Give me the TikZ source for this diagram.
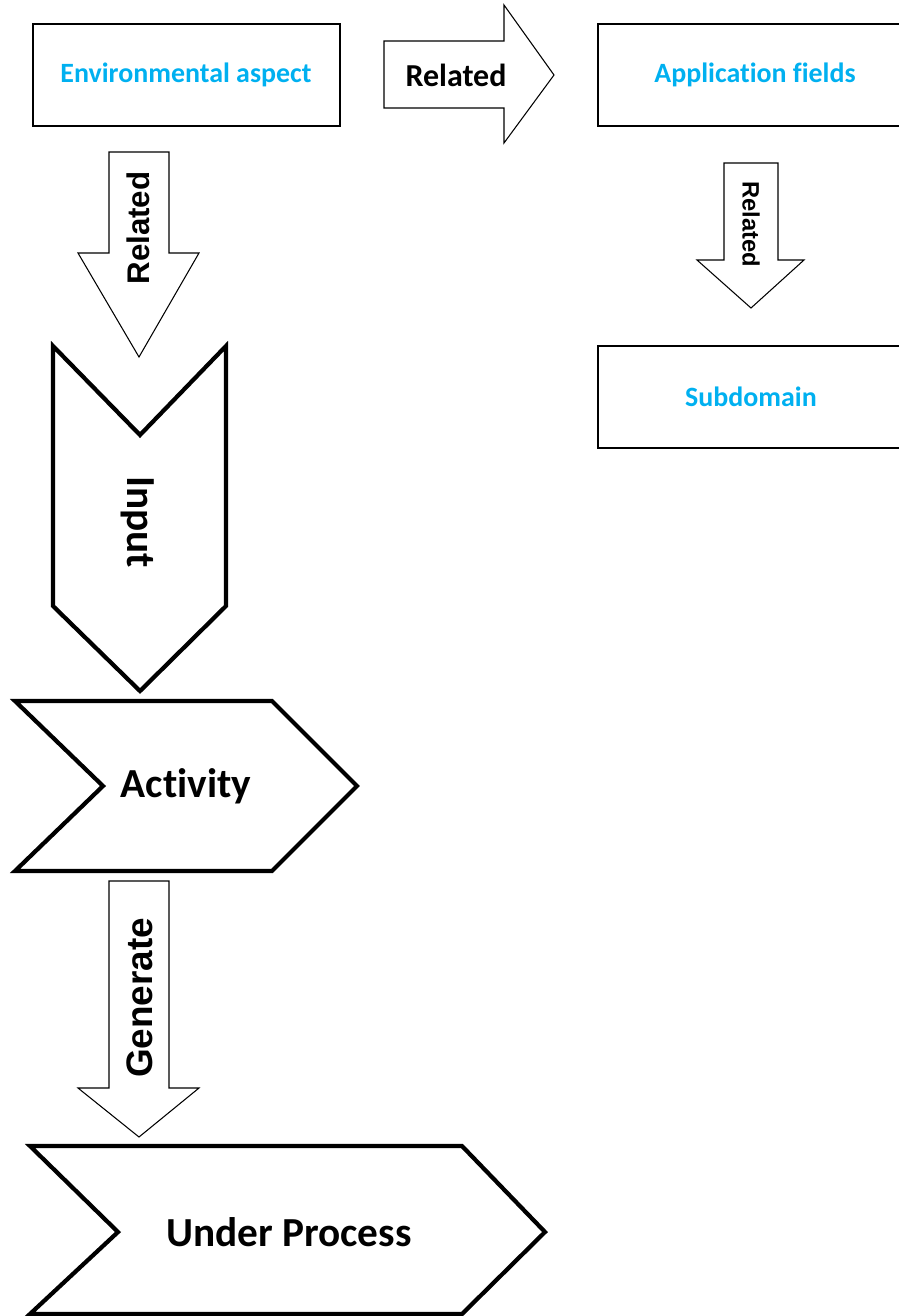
\documentclass[tikz,border=0pt]{standalone}
\usepackage{fontspec}
\setmainfont{Carlito}[Ligatures=NoCommon]
\newfontfamily\arialfont{Liberation Sans}
\usepackage{tikz}
\usetikzlibrary{arrows}
\usetikzlibrary{calc,shapes}
\usepackage{color}
\definecolor{bleuclair}{HTML}{00B0F0}
\tikzset{
  cadre/.style={line width=1.6pt},
  chevron/.style={line width=2.4pt,line join=miter},
  fleche/.style={line width=0.6pt,line join=miter},
  titre/.style={font=\bfseries\fontsize{15.9}{18}\selectfont,text=bleuclair},
  etape/.style={font=\bfseries\fontsize{23.5}{26}\selectfont},
  lien/.style={font=\arialfont\bfseries\fontsize{#1}{#1}\selectfont},
}
\begin{document}
\begin{tikzpicture}[x=0.02cm,y=-0.02cm]
\useasboundingbox (0,0) rectangle (899,1316);
% Cadres
\draw [cadre] (33,24) rectangle (340,126);
\draw [cadre] (598,24) rectangle (906,126);
\draw [cadre] (598,346) rectangle (906,448);
\node [titre] (env) at (186,75) {Environmental aspect};
\node [titre] (app) at (755,75) {Application fields};
\node [titre] (sub) at (751,397) {Subdomain};
% Flèches
\draw [fleche] (384,41) -- (504,41) -- (504,5) -- (554,75) -- (504,143) -- (504,108) -- (384,108) -- cycle;
\node [font=\bfseries\fontsize{18.2}{20}\selectfont] (rel1) at (456,75) {Related};
\draw [fleche] (109,152) -- (169,152) -- (169,253) -- (199,253) -- (139,357) -- (78,253) -- (109,253) -- cycle;
\node [lien=17.8,rotate=90] (rel2) at (138,228) {Related};
\draw [fleche] (724,163) -- (778,163) -- (778,260) -- (804,260) -- (751,308) -- (697,260) -- (724,260) -- cycle;
\node [lien=13.5,rotate=-90] (rel3) at (751,224) {Related};
\draw [fleche] (109,881) -- (169,881) -- (169,1088) -- (199,1088) -- (139,1137) -- (78,1088) -- (109,1088) -- cycle;
\node [lien=21,rotate=90] (gen) at (140,998) {Generate};
% Chevrons
\draw [chevron] (53,346) -- (140,435) -- (226,346) -- (226,606) -- (140,691) -- (53,606) -- cycle;
\node [etape,rotate=-90] (inp) at (138,522) {Input};
\draw [chevron] (15,701) -- (272,701) -- (357,786) -- (272,871) -- (15,871) -- (103,786) -- cycle;
\node [etape] (act) at (186,786) {Activity};
\draw [chevron] (30,1146) -- (462,1146) -- (545,1232) -- (462,1314) -- (30,1314) -- (118,1232) -- cycle;
\node [etape] (proc) at (289,1232) {Under Process};
\end{tikzpicture}
\end{document}
